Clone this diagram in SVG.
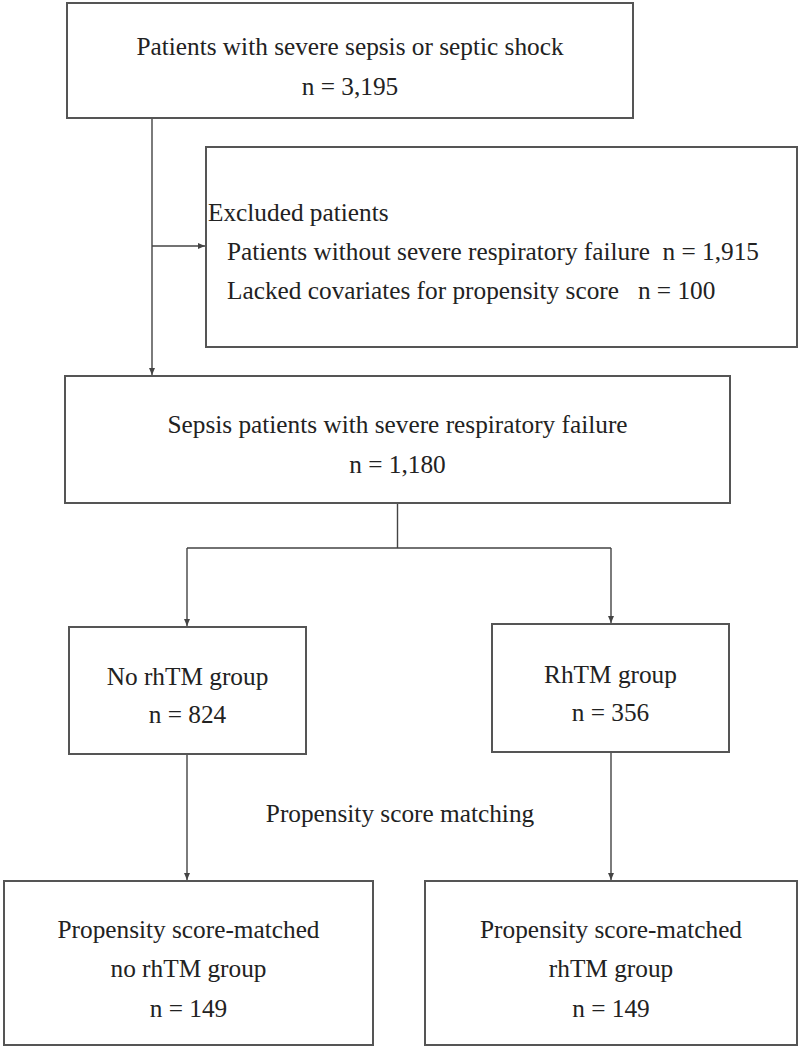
<svg xmlns="http://www.w3.org/2000/svg" width="800" height="1048" viewBox="0 0 800 1048">
<style>
.box{fill:#fff;stroke:#555;stroke-width:2}
.t{font-family:"Liberation Serif","Times New Roman",serif;font-size:25.3px;fill:#222}
.c{text-anchor:middle}
.ln{fill:none;stroke:#444;stroke-width:1.4}
</style>
<defs>
<marker id="ah" markerWidth="8" markerHeight="8" refX="7" refY="4" orient="auto" markerUnits="userSpaceOnUse">
<path d="M0,1 L7,4 L0,7 Z" fill="#444"/>
</marker>
</defs>
<rect width="800" height="1048" fill="#fff"/>
<g id="connectors">
<path class="ln" d="M152,118 V375" marker-end="url(#ah)"/>
<path class="ln" d="M152,246 H205" marker-end="url(#ah)"/>
<path class="ln" d="M397.5,503 V548 M187,548 H611"/>
<path class="ln" d="M187,548 V626" marker-end="url(#ah)"/>
<path class="ln" d="M611,548 V623" marker-end="url(#ah)"/>
<path class="ln" d="M187,754 V880" marker-end="url(#ah)"/>
<path class="ln" d="M611,752 V880" marker-end="url(#ah)"/>
</g>
<g id="n_all">
<rect class="box" x="67" y="3" width="566" height="115"/>
<text class="t c" x="350" y="55">Patients with severe sepsis or septic shock</text>
<text class="t c" x="350" y="95">n = 3,195</text>
</g>
<g id="n_excluded">
<rect class="box" x="206" y="147" width="591" height="200"/>
<text class="t" x="208" y="221">Excluded patients</text>
<text class="t" x="227" y="260" xml:space="preserve">Patients without severe respiratory failure  n = 1,915</text>
<text class="t" x="227" y="299" xml:space="preserve">Lacked covariates for propensity score   n = 100</text>
</g>
<g id="n_sepsis">
<rect class="box" x="65" y="376" width="665" height="127"/>
<text class="t c" x="397.5" y="433">Sepsis patients with severe respiratory failure</text>
<text class="t c" x="397.5" y="473">n = 1,180</text>
</g>
<g id="n_norhtm">
<rect class="box" x="69" y="627" width="237" height="127"/>
<text class="t c" x="187.5" y="685">No rhTM group</text>
<text class="t c" x="187.5" y="723">n = 824</text>
</g>
<g id="n_rhtm">
<rect class="box" x="492" y="624" width="237" height="128"/>
<text class="t c" x="610.5" y="683">RhTM group</text>
<text class="t c" x="610.5" y="721">n = 356</text>
</g>
<g id="label_psm">
<text class="t c" x="400" y="822">Propensity score matching</text>
</g>
<g id="n_psm_norhtm">
<rect class="box" x="4" y="881" width="369" height="164"/>
<text class="t c" x="188.5" y="938">Propensity score-matched</text>
<text class="t c" x="188.5" y="977">no rhTM group</text>
<text class="t c" x="188.5" y="1017">n = 149</text>
</g>
<g id="n_psm_rhtm">
<rect class="box" x="425" y="881" width="372" height="164"/>
<text class="t c" x="611" y="938">Propensity score-matched</text>
<text class="t c" x="611" y="977">rhTM group</text>
<text class="t c" x="611" y="1017">n = 149</text>
</g>
</svg>
